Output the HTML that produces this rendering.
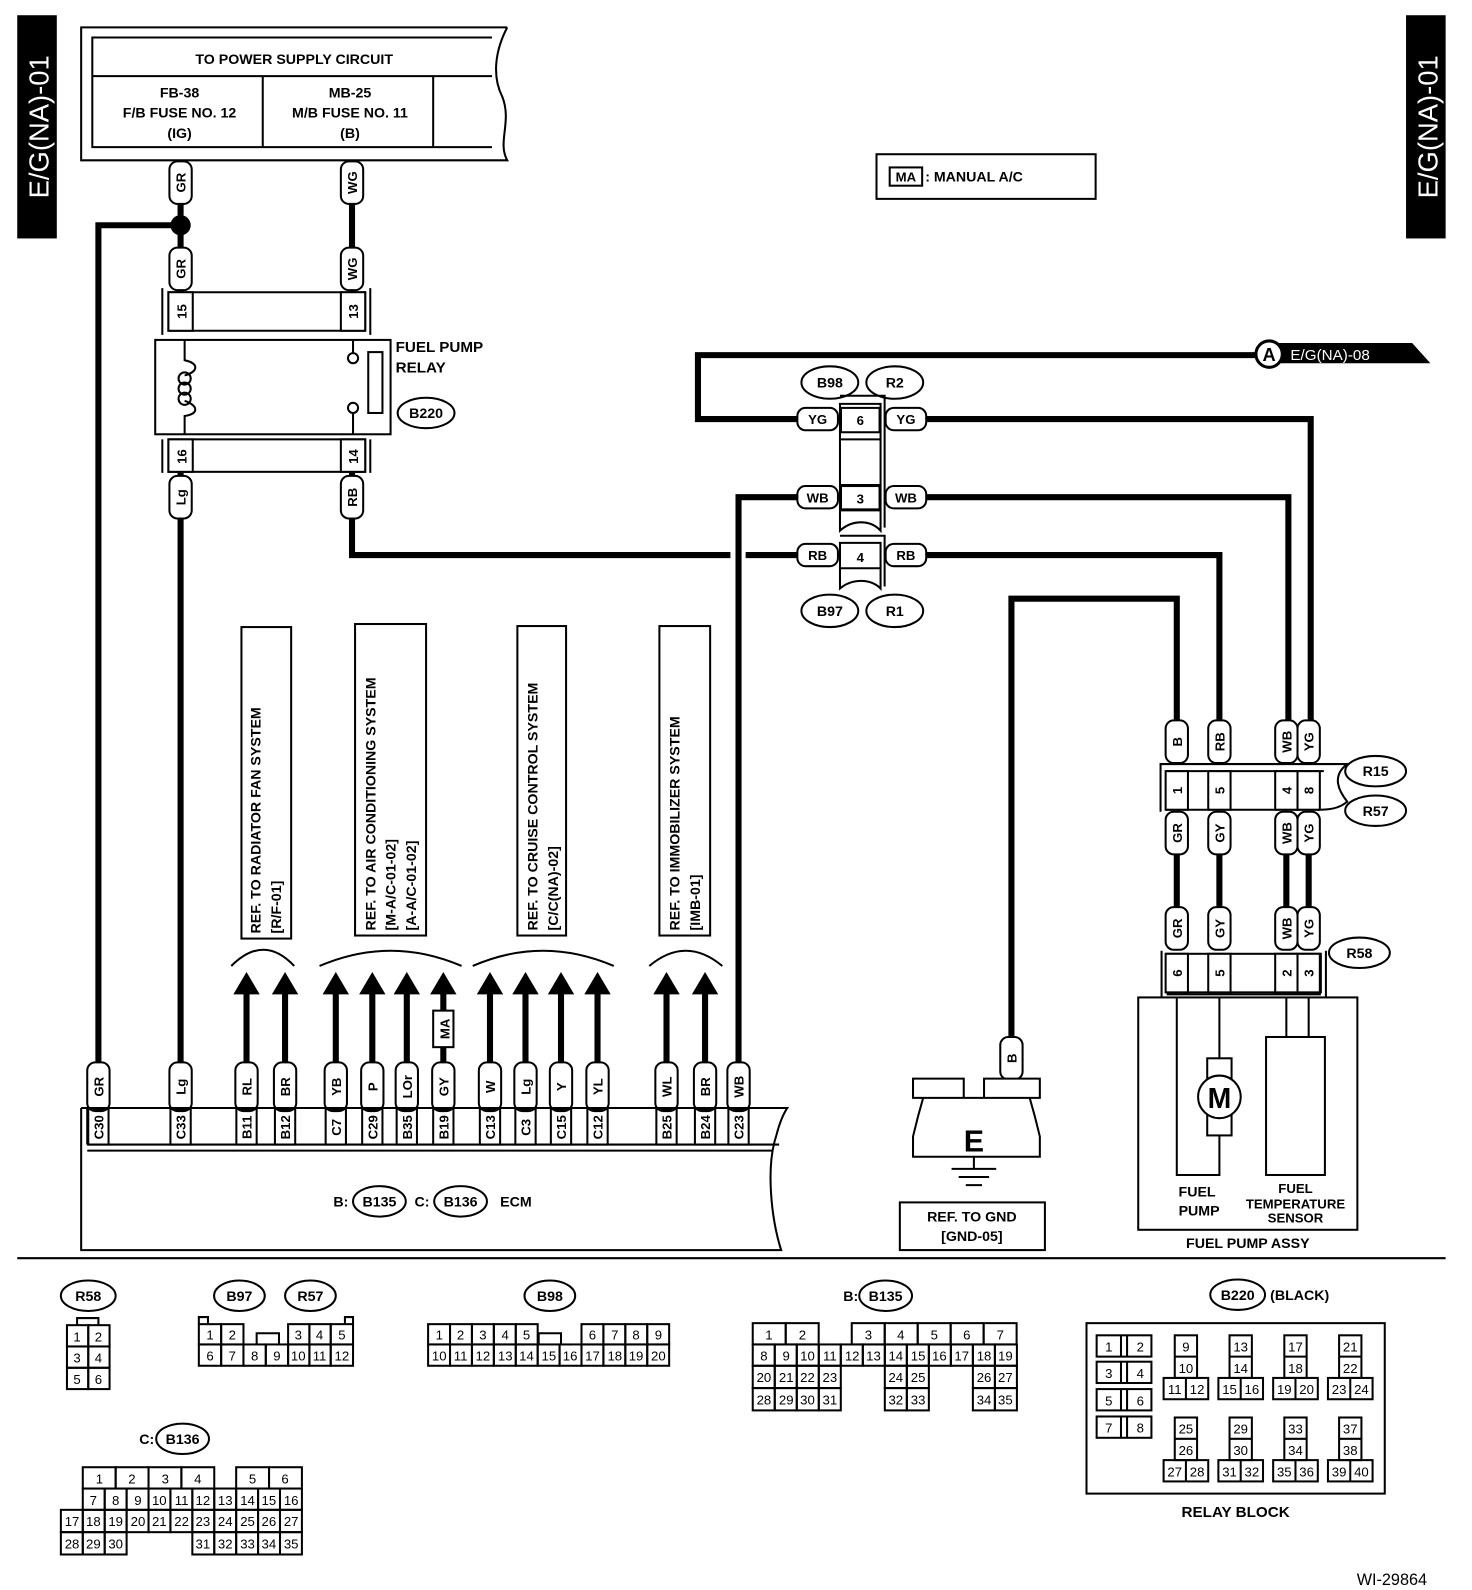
<!DOCTYPE html>
<html><head><meta charset="utf-8"><style>
html,body{margin:0;padding:0;background:#fff}
svg{display:block}
text{font-family:"Liberation Sans",Arial,sans-serif;font-weight:bold;fill:#000}
.w{stroke:#000;stroke-width:6;fill:none}
.t{stroke:#000;stroke-width:2;fill:none}
.f{stroke:#000;stroke-width:2;fill:#fff}
.c text{font-size:13px;font-weight:normal}
</style></head><body>
<svg width="1472" height="1590" viewBox="0 0 1451 1567" preserveAspectRatio="none" xmlns="http://www.w3.org/2000/svg">
<defs>
<g id="arr"><polygon points="0,0 -13,22 13,22" fill="#000"/></g>
</defs>
<rect x="17" y="15" width="39" height="220" fill="#000"/>
<text transform="translate(48,125) rotate(-90)" text-anchor="middle" font-size="27" style="fill:#fff;font-weight:normal">E/G(NA)-01</text>
<rect x="1386" y="15" width="39" height="220" fill="#000"/>
<text transform="translate(1417,125) rotate(-90)" text-anchor="middle" font-size="27" style="fill:#fff;font-weight:normal">E/G(NA)-01</text>

<path class="t" d="M500,27 L80,27 L80,158 L500,158 C490,140 505,120 495,95 C485,75 488,50 500,27" stroke-width="3"/>
<path class="t" d="M485,37 L91,37 L91,145 L485,145 M91,75 L485,75 M259,75 L259,145 M427,75 L427,145"/>
<text x="290" y="63" font-size="14" text-anchor="middle">TO POWER SUPPLY CIRCUIT</text>
<text x="177" y="96" font-size="14" text-anchor="middle">FB-38</text>
<text x="177" y="116" font-size="14" text-anchor="middle">F/B FUSE NO. 12</text>
<text x="177" y="136" font-size="14" text-anchor="middle">(IG)</text>
<text x="345" y="96" font-size="14" text-anchor="middle">MB-25</text>
<text x="345" y="116" font-size="14" text-anchor="middle">M/B FUSE NO. 11</text>
<text x="345" y="136" font-size="14" text-anchor="middle">(B)</text>

<path class="w" d="M178,158 L178,290 M347,158 L347,290"/>
<path class="w" d="M178,222 L97,222 L97,1048"/>
<circle cx="178" cy="222" r="10" fill="#000"/>
<path class="w" d="M178,466 L178,1048"/>
<path class="w" d="M347,466 L347,547 L720,547 M735,547 L790,547"/>
<path class="w" d="M728,1048 L728,490 L790,490"/>
<path class="w" d="M1245,350 L688,350 L688,413 L790,413"/>
<path class="w" d="M905,413 L1292,413 L1292,712 M905,490 L1270,490 L1270,712 M905,547 L1202,547 L1202,712"/>
<path class="w" d="M997,1022 L997,590 L1160,590 L1160,712"/>
<path class="w" d="M1160,840 L1160,900 M1202,840 L1202,900 M1268,840 L1268,900 M1290,840 L1290,900"/>

<polygon points="1252,338 1392,338 1410,358 1252,358" fill="#000"/>
<circle cx="1251" cy="349" r="13" fill="#fff" stroke="#000" stroke-width="3"/>
<text x="1251" y="356" font-size="18" text-anchor="middle">A</text>
<text x="1272" y="355" font-size="15" style="fill:#fff;font-weight:normal">E/G(NA)-08</text>

<path class="t" d="M160,284 L160,330 M365,284 L365,330 M166,288 L360,288 L360,326 L166,326 Z M166,288 L166,326"/>
<rect class="f" x="166" y="288" width="24" height="38"/><rect class="f" x="336" y="288" width="24" height="38"/>
<text transform="translate(184,307) rotate(-90)" font-size="13" text-anchor="middle">15</text>
<text transform="translate(353,307) rotate(-90)" font-size="13" text-anchor="middle">13</text>
<rect class="f" x="153" y="335" width="232" height="93" stroke-width="3"/>
<path class="t" d="M182,335 L182,355 C196,358 196,366 182,370 M182,395 C196,400 196,408 182,410 L182,428"/>
<circle cx="182" cy="373" r="6" class="t"/><circle cx="182" cy="383" r="6" class="t"/><circle cx="182" cy="393" r="6" class="t"/>
<path class="t" d="M348,335 L348,348 M348,408 L348,428"/>
<circle cx="348" cy="353" r="5" class="f"/><circle cx="348" cy="402" r="5" class="f"/>
<rect class="f" x="363" y="347" width="14" height="60"/>
<text x="390" y="347" font-size="15">FUEL PUMP</text>
<text x="390" y="367" font-size="15">RELAY</text>
<path class="t" d="M160,433 L160,466 M365,433 L365,466"/>
<rect class="t" x="166" y="433" width="194" height="32"/>
<rect class="f" x="166" y="433" width="24" height="32"/><rect class="f" x="336" y="433" width="24" height="32"/>
<text transform="translate(184,450) rotate(-90)" font-size="13" text-anchor="middle">16</text>
<text transform="translate(353,450) rotate(-90)" font-size="13" text-anchor="middle">14</text>

<g class="t">
<ellipse cx="420" cy="407" rx="28" ry="15"/>
<ellipse cx="818" cy="377" rx="28" ry="16"/><ellipse cx="882" cy="377" rx="28" ry="16"/>
<ellipse cx="818" cy="602" rx="28" ry="16"/><ellipse cx="882" cy="602" rx="28" ry="16"/>
<ellipse cx="1356" cy="760" rx="30" ry="15"/><ellipse cx="1356" cy="799" rx="30" ry="15"/>
<ellipse cx="1340" cy="939" rx="30" ry="15"/>
<ellipse cx="374" cy="1184" rx="26" ry="15"/><ellipse cx="454" cy="1184" rx="26" ry="15"/>
<ellipse cx="87" cy="1277" rx="27" ry="15"/><ellipse cx="236" cy="1277" rx="25" ry="15"/><ellipse cx="306" cy="1277" rx="25" ry="15"/>
<ellipse cx="542" cy="1277" rx="25" ry="15"/><ellipse cx="873" cy="1277" rx="26" ry="15"/>
<ellipse cx="180" cy="1418" rx="26" ry="15"/><ellipse cx="1220" cy="1276" rx="27" ry="15"/>
</g>
<g font-size="14" text-anchor="middle">
<text x="420" y="412">B220</text>
<text x="818" y="382">B98</text><text x="882" y="382">R2</text>
<text x="818" y="607">B97</text><text x="882" y="607">R1</text>
<text x="1356" y="765">R15</text><text x="1356" y="804">R57</text><text x="1340" y="944">R58</text>
<text x="374" y="1189">B135</text><text x="454" y="1189">B136</text>
<text x="87" y="1282">R58</text><text x="236" y="1282">B97</text><text x="306" y="1282">R57</text>
<text x="542" y="1282">B98</text><text x="873" y="1282">B135</text>
<text x="180" y="1423">B136</text><text x="1220" y="1281">B220</text>
</g>
<text x="336" y="1189" font-size="14" text-anchor="middle">B:</text>
<text x="416" y="1189" font-size="14" text-anchor="middle">C:</text>
<text x="493" y="1189" font-size="14">ECM</text>
<text x="846" y="1282" font-size="14" text-anchor="end">B:</text>
<text x="152" y="1423" font-size="14" text-anchor="end">C:</text>
<text x="1252" y="1281" font-size="14">(BLACK)</text>

<rect class="t" x="864" y="152" width="216" height="44"/>
<rect class="t" x="877" y="165" width="32" height="18"/>
<text x="893" y="179" font-size="13" text-anchor="middle">MA</text>
<text x="912" y="179" font-size="14">: MANUAL A/C</text>

<path class="t" d="M828,398 L868,398 L868,523 C858,512 840,512 828,523 Z M828,433 L868,433 M828,478 L868,478 M828,503 L868,503 M828,390 L872,390 L872,520"/>
<path class="t" d="M828,535 L868,535 L868,580 C858,570 840,570 828,580 Z M828,560 L868,560 M828,528 L872,528 L872,578"/>
<rect class="f" x="829" y="402" width="38" height="24"/>
<rect class="f" x="829" y="479" width="38" height="23"/>
<text x="848" y="419" font-size="13" text-anchor="middle">6</text>
<text x="848" y="496" font-size="13" text-anchor="middle">3</text>
<text x="848" y="554" font-size="13" text-anchor="middle">4</text>
<g font-size="13" text-anchor="middle">
<rect class="f" x="786" y="402" width="40" height="22" rx="8"/><text x="806" y="418">YG</text>
<rect class="f" x="873" y="402" width="40" height="22" rx="8"/><text x="893" y="418">YG</text>
<rect class="f" x="786" y="479" width="40" height="22" rx="8"/><text x="806" y="495">WB</text>
<rect class="f" x="873" y="479" width="40" height="22" rx="8"/><text x="893" y="495">WB</text>
<rect class="f" x="786" y="536" width="40" height="22" rx="8"/><text x="806" y="552">RB</text>
<rect class="f" x="873" y="536" width="40" height="22" rx="8"/><text x="893" y="552">RB</text>
</g>

<g font-size="13" text-anchor="middle">
<g transform="translate(178,180)"><rect class="f" x="-11" y="-21" width="22" height="42" rx="8"/><text transform="rotate(-90)" y="5">GR</text></g>
<g transform="translate(347,180)"><rect class="f" x="-11" y="-21" width="22" height="42" rx="8"/><text transform="rotate(-90)" y="5">WG</text></g>
<g transform="translate(178,265)"><rect class="f" x="-11" y="-21" width="22" height="42" rx="8"/><text transform="rotate(-90)" y="5">GR</text></g>
<g transform="translate(347,265)"><rect class="f" x="-11" y="-21" width="22" height="42" rx="8"/><text transform="rotate(-90)" y="5">WG</text></g>
<g transform="translate(178,490)"><rect class="f" x="-11" y="-21" width="22" height="42" rx="8"/><text transform="rotate(-90)" y="5">Lg</text></g>
<g transform="translate(347,490)"><rect class="f" x="-11" y="-21" width="22" height="42" rx="8"/><text transform="rotate(-90)" y="5">RB</text></g>
<g transform="translate(1160,731)"><rect class="f" x="-11" y="-21" width="22" height="42" rx="8"/><text transform="rotate(-90)" y="5">B</text></g>
<g transform="translate(1202,731)"><rect class="f" x="-11" y="-21" width="22" height="42" rx="8"/><text transform="rotate(-90)" y="5">RB</text></g>
<g transform="translate(1268,731)"><rect class="f" x="-11" y="-21" width="22" height="42" rx="8"/><text transform="rotate(-90)" y="5">WB</text></g>
<g transform="translate(1290,731)"><rect class="f" x="-11" y="-21" width="22" height="42" rx="8"/><text transform="rotate(-90)" y="5">YG</text></g>
<g transform="translate(1160,821)"><rect class="f" x="-11" y="-21" width="22" height="42" rx="8"/><text transform="rotate(-90)" y="5">GR</text></g>
<g transform="translate(1202,821)"><rect class="f" x="-11" y="-21" width="22" height="42" rx="8"/><text transform="rotate(-90)" y="5">GY</text></g>
<g transform="translate(1268,821)"><rect class="f" x="-11" y="-21" width="22" height="42" rx="8"/><text transform="rotate(-90)" y="5">WB</text></g>
<g transform="translate(1290,821)"><rect class="f" x="-11" y="-21" width="22" height="42" rx="8"/><text transform="rotate(-90)" y="5">YG</text></g>
<g transform="translate(1160,915)"><rect class="f" x="-11" y="-21" width="22" height="42" rx="8"/><text transform="rotate(-90)" y="5">GR</text></g>
<g transform="translate(1202,915)"><rect class="f" x="-11" y="-21" width="22" height="42" rx="8"/><text transform="rotate(-90)" y="5">GY</text></g>
<g transform="translate(1268,915)"><rect class="f" x="-11" y="-21" width="22" height="42" rx="8"/><text transform="rotate(-90)" y="5">WB</text></g>
<g transform="translate(1290,915)"><rect class="f" x="-11" y="-21" width="22" height="42" rx="8"/><text transform="rotate(-90)" y="5">YG</text></g>
<g transform="translate(997,1043)"><rect class="f" x="-11" y="-21" width="22" height="42" rx="8"/><text transform="rotate(-90)" y="5">B</text></g>
</g>

<path class="t" d="M1144,800 L1144,753 L1328,753 C1312,765 1320,780 1328,790 C1320,797 1310,798 1300,798 L1150,798 L1150,760 L1305,760"/>
<g class="f"><rect x="1149" y="760" width="22" height="38"/><rect x="1191" y="760" width="22" height="38"/><rect x="1257" y="760" width="22" height="38"/><rect x="1279" y="760" width="22" height="38"/></g>
<g font-size="13" text-anchor="middle">
<text transform="translate(1165,779) rotate(-90)" text-anchor="middle">1</text>
<text transform="translate(1207,779) rotate(-90)" text-anchor="middle">5</text>
<text transform="translate(1273,779) rotate(-90)" text-anchor="middle">4</text>
<text transform="translate(1295,779) rotate(-90)" text-anchor="middle">8</text>
</g>
<path class="t" d="M1145,937 L1145,983 M1307,937 L1307,983 M1150,980 L1302,980"/>
<g class="f"><rect x="1150" y="940" width="152" height="38"/></g>
<g class="f"><rect x="1149" y="940" width="22" height="38"/><rect x="1191" y="940" width="22" height="38"/><rect x="1257" y="940" width="22" height="38"/><rect x="1279" y="940" width="22" height="38"/></g>
<g font-size="13">
<text transform="translate(1165,959) rotate(-90)" text-anchor="middle">6</text>
<text transform="translate(1207,959) rotate(-90)" text-anchor="middle">5</text>
<text transform="translate(1273,959) rotate(-90)" text-anchor="middle">2</text>
<text transform="translate(1295,959) rotate(-90)" text-anchor="middle">3</text>
</g>
<rect class="t" x="1122" y="983" width="216" height="229" stroke-width="2.5"/>
<path class="t" d="M1160,983 L1160,1158 L1202,1158 L1202,983 M1268,983 L1268,1022 M1290,983 L1290,1022"/>
<rect class="f" x="1190" y="1043" width="24" height="76"/>
<circle cx="1202" cy="1081" r="21" class="f" stroke-width="2.5"/>
<text x="1202" y="1092" font-size="28" text-anchor="middle">M</text>
<rect class="f" x="1248" y="1022" width="58" height="136"/>
<text x="1180" y="1179" font-size="14" text-anchor="middle">FUEL</text>
<text x="1182" y="1198" font-size="14" text-anchor="middle">PUMP</text>
<text x="1277" y="1176" font-size="13" text-anchor="middle">FUEL</text>
<text x="1277" y="1191" font-size="13" text-anchor="middle">TEMPERATURE</text>
<text x="1277" y="1205" font-size="13" text-anchor="middle">SENSOR</text>
<text x="1230" y="1230" font-size="14" text-anchor="middle">FUEL PUMP ASSY</text>

<path class="f" stroke-width="2.5" d="M900,1063 L950,1063 L950,1082 L970,1082 L970,1063 L1025,1063 L1025,1082 L1015,1082 L1020,1100 L1025,1120 L1025,1140 L900,1140 L900,1120 L905,1100 L910,1082 L900,1082 Z M910,1082 L1015,1082"/>
<text x="960" y="1135" font-size="30" text-anchor="middle">E</text>
<path class="t" d="M960,1140 L960,1152 M938,1152 L982,1152 M945,1160 L975,1160 M952,1168 L968,1168"/>
<rect class="t" x="887" y="1185" width="143" height="47"/>
<text x="958" y="1204" font-size="14" text-anchor="middle">REF. TO GND</text>
<text x="958" y="1223" font-size="14" text-anchor="middle">[GND-05]</text>

<rect class="t" x="238" y="618" width="49" height="307"/>
<text transform="translate(257,920) rotate(-90)" font-size="14">REF. TO RADIATOR FAN SYSTEM</text>
<text transform="translate(277,920) rotate(-90)" font-size="14">[R/F-01]</text>
<rect class="t" x="350" y="615" width="70" height="307"/>
<text transform="translate(370,917) rotate(-90)" font-size="14">REF. TO AIR CONDITIONING SYSTEM</text>
<text transform="translate(390,917) rotate(-90)" font-size="14">[M-A/C-01-02]</text>
<text transform="translate(410,917) rotate(-90)" font-size="14">[A-A/C-01-02]</text>
<rect class="t" x="510" y="617" width="48" height="305"/>
<text transform="translate(530,917) rotate(-90)" font-size="14">REF. TO CRUISE CONTROL SYSTEM</text>
<text transform="translate(550,917) rotate(-90)" font-size="14">[C/C(NA)-02]</text>
<rect class="t" x="650" y="617" width="50" height="305"/>
<text transform="translate(670,917) rotate(-90)" font-size="14">REF. TO IMMOBILIZER SYSTEM</text>
<text transform="translate(690,917) rotate(-90)" font-size="14">[IMB-01]</text>

<path class="t" d="M228,952 Q260,920 290,952 M315,952 Q385,922 455,952 M466,952 Q535,922 605,952 M640,952 Q676,922 712,952" stroke-width="1.5"/>

<path class="w" d="M243,975 L243,1048 M281,975 L281,1048 M331,975 L331,1048 M367,975 L367,1048 M401,975 L401,1048 M437,975 L437,1048 M483,975 L483,1048 M518,975 L518,1048 M553,975 L553,1048 M589,975 L589,1048 M657,975 L657,1048 M695,975 L695,1048"/>
<g><use href="#arr" x="243" y="958"/><use href="#arr" x="281" y="958"/><use href="#arr" x="331" y="958"/><use href="#arr" x="367" y="958"/><use href="#arr" x="401" y="958"/><use href="#arr" x="437" y="958"/><use href="#arr" x="483" y="958"/><use href="#arr" x="518" y="958"/><use href="#arr" x="553" y="958"/><use href="#arr" x="589" y="958"/><use href="#arr" x="657" y="958"/><use href="#arr" x="695" y="958"/></g>
<rect class="f" x="427" y="996" width="20" height="36"/>
<text transform="translate(443,1014) rotate(-90)" font-size="13" text-anchor="middle">MA</text>

<g font-size="13" text-anchor="middle">
<g transform="translate(97,1071)"><rect class="f" x="-11" y="-24" width="22" height="48" rx="8"/><text transform="rotate(-90)" y="5">GR</text></g>
<g transform="translate(178,1071)"><rect class="f" x="-11" y="-24" width="22" height="48" rx="8"/><text transform="rotate(-90)" y="5">Lg</text></g>
<g transform="translate(243,1071)"><rect class="f" x="-11" y="-24" width="22" height="48" rx="8"/><text transform="rotate(-90)" y="5">RL</text></g>
<g transform="translate(281,1071)"><rect class="f" x="-11" y="-24" width="22" height="48" rx="8"/><text transform="rotate(-90)" y="5">BR</text></g>
<g transform="translate(331,1071)"><rect class="f" x="-11" y="-24" width="22" height="48" rx="8"/><text transform="rotate(-90)" y="5">YB</text></g>
<g transform="translate(367,1071)"><rect class="f" x="-11" y="-24" width="22" height="48" rx="8"/><text transform="rotate(-90)" y="5">P</text></g>
<g transform="translate(401,1071)"><rect class="f" x="-11" y="-24" width="22" height="48" rx="8"/><text transform="rotate(-90)" y="5">LOr</text></g>
<g transform="translate(437,1071)"><rect class="f" x="-11" y="-24" width="22" height="48" rx="8"/><text transform="rotate(-90)" y="5">GY</text></g>
<g transform="translate(483,1071)"><rect class="f" x="-11" y="-24" width="22" height="48" rx="8"/><text transform="rotate(-90)" y="5">W</text></g>
<g transform="translate(518,1071)"><rect class="f" x="-11" y="-24" width="22" height="48" rx="8"/><text transform="rotate(-90)" y="5">Lg</text></g>
<g transform="translate(553,1071)"><rect class="f" x="-11" y="-24" width="22" height="48" rx="8"/><text transform="rotate(-90)" y="5">Y</text></g>
<g transform="translate(589,1071)"><rect class="f" x="-11" y="-24" width="22" height="48" rx="8"/><text transform="rotate(-90)" y="5">YL</text></g>
<g transform="translate(657,1071)"><rect class="f" x="-11" y="-24" width="22" height="48" rx="8"/><text transform="rotate(-90)" y="5">WL</text></g>
<g transform="translate(695,1071)"><rect class="f" x="-11" y="-24" width="22" height="48" rx="8"/><text transform="rotate(-90)" y="5">BR</text></g>
<g transform="translate(728,1071)"><rect class="f" x="-11" y="-24" width="22" height="48" rx="8"/><text transform="rotate(-90)" y="5">WB</text></g>
</g>

<path class="t" stroke-width="2.5" d="M80,1092 L80,1232 L770,1232 C760,1200 755,1150 765,1120 C768,1108 772,1098 776,1092 L80,1092 M86,1128 L768,1128 M86,1134 L762,1134 M86,1092 L86,1128"/>
<g class="t">
<rect x="87" y="1093" width="20" height="35"/><rect x="168" y="1093" width="20" height="35"/><rect x="233" y="1093" width="20" height="35"/><rect x="271" y="1093" width="20" height="35"/><rect x="321" y="1093" width="20" height="35"/><rect x="357" y="1093" width="20" height="35"/><rect x="391" y="1093" width="20" height="35"/><rect x="427" y="1093" width="20" height="35"/><rect x="473" y="1093" width="20" height="35"/><rect x="508" y="1093" width="20" height="35"/><rect x="543" y="1093" width="20" height="35"/><rect x="579" y="1093" width="20" height="35"/><rect x="647" y="1093" width="20" height="35"/><rect x="685" y="1093" width="20" height="35"/><rect x="718" y="1093" width="20" height="35"/>
</g>
<g font-size="13" text-anchor="middle">
<text transform="translate(102,1111) rotate(-90)">C30</text><text transform="translate(183,1111) rotate(-90)">C33</text><text transform="translate(248,1111) rotate(-90)">B11</text><text transform="translate(286,1111) rotate(-90)">B12</text><text transform="translate(336,1111) rotate(-90)">C7</text><text transform="translate(372,1111) rotate(-90)">C29</text><text transform="translate(406,1111) rotate(-90)">B35</text><text transform="translate(442,1111) rotate(-90)">B19</text><text transform="translate(488,1111) rotate(-90)">C13</text><text transform="translate(523,1111) rotate(-90)">C3</text><text transform="translate(558,1111) rotate(-90)">C15</text><text transform="translate(594,1111) rotate(-90)">C12</text><text transform="translate(662,1111) rotate(-90)">B25</text><text transform="translate(700,1111) rotate(-90)">B24</text><text transform="translate(733,1111) rotate(-90)">C23</text>
</g>

<line x1="17" y1="1240" x2="1425" y2="1240" stroke="#000" stroke-width="2"/>

<g class="c" text-anchor="middle">
<path class="t" d="M76,1306 L76,1299 L97,1299 L97,1306"/>
<g class="t"><rect x="66" y="1306" width="21" height="21"/><rect x="87" y="1306" width="21" height="21"/><rect x="66" y="1327" width="21" height="21"/><rect x="87" y="1327" width="21" height="21"/><rect x="66" y="1348" width="21" height="21"/><rect x="87" y="1348" width="21" height="21"/></g>
<text x="76" y="1322">1</text><text x="97" y="1322">2</text><text x="76" y="1343">3</text><text x="97" y="1343">4</text><text x="76" y="1364">5</text><text x="97" y="1364">6</text>
<g class="t"><path d="M196,1305 L196,1298 L205,1298 L205,1305 M340,1305 L340,1298 L348,1298 L348,1305 M253,1325 L253,1314 L275,1314 L275,1325"/>
<rect x="196" y="1305" width="22" height="20"/><rect x="218" y="1305" width="22" height="20"/><rect x="284" y="1305" width="21" height="20"/><rect x="305" y="1305" width="21" height="20"/><rect x="326" y="1305" width="22" height="20"/>
<rect x="196" y="1325" width="22" height="21"/><rect x="218" y="1325" width="22" height="21"/><rect x="240" y="1325" width="22" height="21"/><rect x="262" y="1325" width="22" height="21"/><rect x="284" y="1325" width="21" height="21"/><rect x="305" y="1325" width="21" height="21"/><rect x="326" y="1325" width="22" height="21"/></g>
<text x="207" y="1320">1</text><text x="229" y="1320">2</text><text x="294" y="1320">3</text><text x="315" y="1320">4</text><text x="337" y="1320">5</text>
<text x="207" y="1341">6</text><text x="229" y="1341">7</text><text x="251" y="1341">8</text><text x="273" y="1341">9</text><text x="294" y="1341">10</text><text x="315" y="1341">11</text><text x="337" y="1341">12</text>
<g class="t"><path d="M531,1325 L531,1314 L553,1314 L553,1325"/>
<rect x="422" y="1305" width="21.6" height="20"/><rect x="443.6" y="1305" width="21.6" height="20"/><rect x="465.2" y="1305" width="21.6" height="20"/><rect x="486.8" y="1305" width="21.6" height="20"/><rect x="508.4" y="1305" width="21.6" height="20"/>
<rect x="573.2" y="1305" width="21.6" height="20"/><rect x="594.8" y="1305" width="21.6" height="20"/><rect x="616.4" y="1305" width="21.6" height="20"/><rect x="638" y="1305" width="21.6" height="20"/>
<rect x="422" y="1325" width="21.6" height="21"/><rect x="443.6" y="1325" width="21.6" height="21"/><rect x="465.2" y="1325" width="21.6" height="21"/><rect x="486.8" y="1325" width="21.6" height="21"/><rect x="508.4" y="1325" width="21.6" height="21"/><rect x="530" y="1325" width="21.6" height="21"/><rect x="551.6" y="1325" width="21.6" height="21"/><rect x="573.2" y="1325" width="21.6" height="21"/><rect x="594.8" y="1325" width="21.6" height="21"/><rect x="616.4" y="1325" width="21.6" height="21"/><rect x="638" y="1325" width="21.6" height="21"/></g>
<text x="433" y="1320">1</text><text x="454" y="1320">2</text><text x="476" y="1320">3</text><text x="498" y="1320">4</text><text x="519" y="1320">5</text><text x="584" y="1320">6</text><text x="606" y="1320">7</text><text x="627" y="1320">8</text><text x="649" y="1320">9</text>
<text x="433" y="1341">10</text><text x="454" y="1341">11</text><text x="476" y="1341">12</text><text x="498" y="1341">13</text><text x="519" y="1341">14</text><text x="541" y="1341">15</text><text x="562" y="1341">16</text><text x="584" y="1341">17</text><text x="606" y="1341">18</text><text x="627" y="1341">19</text><text x="649" y="1341">20</text>
<g class="t">
<rect x="742" y="1304" width="32.5" height="21"/><rect x="774.5" y="1304" width="32.5" height="21"/><rect x="839.6" y="1304" width="32.5" height="21"/><rect x="872.1" y="1304" width="32.5" height="21"/><rect x="904.6" y="1304" width="32.5" height="21"/><rect x="937.1" y="1304" width="32.5" height="21"/><rect x="969.6" y="1304" width="32.5" height="21"/>
<rect x="742" y="1325" width="21.7" height="21"/><rect x="763.7" y="1325" width="21.7" height="21"/><rect x="785.4" y="1325" width="21.7" height="21"/><rect x="807.1" y="1325" width="21.7" height="21"/><rect x="828.8" y="1325" width="21.7" height="21"/><rect x="850.5" y="1325" width="21.7" height="21"/><rect x="872.2" y="1325" width="21.7" height="21"/><rect x="893.9" y="1325" width="21.7" height="21"/><rect x="915.6" y="1325" width="21.7" height="21"/><rect x="937.3" y="1325" width="21.7" height="21"/><rect x="959" y="1325" width="21.7" height="21"/><rect x="980.7" y="1325" width="21.7" height="21"/>
<rect x="742" y="1346" width="21.7" height="22"/><rect x="763.7" y="1346" width="21.7" height="22"/><rect x="785.4" y="1346" width="21.7" height="22"/><rect x="807.1" y="1346" width="21.7" height="22"/><rect x="872.2" y="1346" width="21.7" height="22"/><rect x="893.9" y="1346" width="21.7" height="22"/><rect x="959" y="1346" width="21.7" height="22"/><rect x="980.7" y="1346" width="21.7" height="22"/>
<rect x="742" y="1368" width="21.7" height="22"/><rect x="763.7" y="1368" width="21.7" height="22"/><rect x="785.4" y="1368" width="21.7" height="22"/><rect x="807.1" y="1368" width="21.7" height="22"/><rect x="872.2" y="1368" width="21.7" height="22"/><rect x="893.9" y="1368" width="21.7" height="22"/><rect x="959" y="1368" width="21.7" height="22"/><rect x="980.7" y="1368" width="21.7" height="22"/>
</g>
<text x="758" y="1320">1</text><text x="791" y="1320">2</text><text x="856" y="1320">3</text><text x="888" y="1320">4</text><text x="921" y="1320">5</text><text x="953" y="1320">6</text><text x="986" y="1320">7</text>
<text x="753" y="1341">8</text><text x="775" y="1341">9</text><text x="796" y="1341">10</text><text x="818" y="1341">11</text><text x="840" y="1341">12</text><text x="861" y="1341">13</text><text x="883" y="1341">14</text><text x="905" y="1341">15</text><text x="926" y="1341">16</text><text x="948" y="1341">17</text><text x="970" y="1341">18</text><text x="991" y="1341">19</text>
<text x="753" y="1362">20</text><text x="775" y="1362">21</text><text x="796" y="1362">22</text><text x="818" y="1362">23</text><text x="883" y="1362">24</text><text x="905" y="1362">25</text><text x="970" y="1362">26</text><text x="991" y="1362">27</text>
<text x="753" y="1384">28</text><text x="775" y="1384">29</text><text x="796" y="1384">30</text><text x="818" y="1384">31</text><text x="883" y="1384">32</text><text x="905" y="1384">33</text><text x="970" y="1384">34</text><text x="991" y="1384">35</text>
<g class="t">
<rect x="81.6" y="1446" width="32.4" height="21"/><rect x="114" y="1446" width="32.4" height="21"/><rect x="146.4" y="1446" width="32.4" height="21"/><rect x="178.8" y="1446" width="32.4" height="21"/><rect x="232.8" y="1446" width="32.4" height="21"/><rect x="265.2" y="1446" width="32.4" height="21"/>
<rect x="81.6" y="1467" width="21.6" height="21"/><rect x="103.2" y="1467" width="21.6" height="21"/><rect x="124.8" y="1467" width="21.6" height="21"/><rect x="146.4" y="1467" width="21.6" height="21"/><rect x="168" y="1467" width="21.6" height="21"/><rect x="189.6" y="1467" width="21.6" height="21"/><rect x="211.2" y="1467" width="21.6" height="21"/><rect x="232.8" y="1467" width="21.6" height="21"/><rect x="254.4" y="1467" width="21.6" height="21"/><rect x="276" y="1467" width="21.6" height="21"/>
<rect x="60" y="1488" width="21.6" height="22"/><rect x="81.6" y="1488" width="21.6" height="22"/><rect x="103.2" y="1488" width="21.6" height="22"/><rect x="124.8" y="1488" width="21.6" height="22"/><rect x="146.4" y="1488" width="21.6" height="22"/><rect x="168" y="1488" width="21.6" height="22"/><rect x="189.6" y="1488" width="21.6" height="22"/><rect x="211.2" y="1488" width="21.6" height="22"/><rect x="232.8" y="1488" width="21.6" height="22"/><rect x="254.4" y="1488" width="21.6" height="22"/><rect x="276" y="1488" width="21.6" height="22"/>
<rect x="60" y="1510" width="21.6" height="22"/><rect x="81.6" y="1510" width="21.6" height="22"/><rect x="103.2" y="1510" width="21.6" height="22"/><rect x="189.6" y="1510" width="21.6" height="22"/><rect x="211.2" y="1510" width="21.6" height="22"/><rect x="232.8" y="1510" width="21.6" height="22"/><rect x="254.4" y="1510" width="21.6" height="22"/><rect x="276" y="1510" width="21.6" height="22"/>
</g>
<text x="98" y="1462">1</text><text x="130" y="1462">2</text><text x="163" y="1462">3</text><text x="195" y="1462">4</text><text x="249" y="1462">5</text><text x="281" y="1462">6</text>
<text x="92" y="1483">7</text><text x="114" y="1483">8</text><text x="136" y="1483">9</text><text x="157" y="1483">10</text><text x="179" y="1483">11</text><text x="200" y="1483">12</text><text x="222" y="1483">13</text><text x="244" y="1483">14</text><text x="265" y="1483">15</text><text x="287" y="1483">16</text>
<text x="71" y="1504">17</text><text x="92" y="1504">18</text><text x="114" y="1504">19</text><text x="136" y="1504">20</text><text x="157" y="1504">21</text><text x="179" y="1504">22</text><text x="200" y="1504">23</text><text x="222" y="1504">24</text><text x="244" y="1504">25</text><text x="265" y="1504">26</text><text x="287" y="1504">27</text>
<text x="71" y="1526">28</text><text x="92" y="1526">29</text><text x="114" y="1526">30</text><text x="200" y="1526">31</text><text x="222" y="1526">32</text><text x="244" y="1526">33</text><text x="265" y="1526">34</text><text x="287" y="1526">35</text>
<rect class="t" x="1071" y="1304" width="294" height="168"/>
<g class="t">
<rect x="1081" y="1316" width="54" height="21"/><path d="M1105,1316 L1105,1337 M1111,1316 L1111,1337"/>
<rect x="1081" y="1342" width="54" height="21"/><path d="M1105,1342 L1105,1363 M1111,1342 L1111,1363"/>
<rect x="1081" y="1369" width="54" height="21"/><path d="M1105,1369 L1105,1390 M1111,1369 L1111,1390"/>
<rect x="1081" y="1396" width="54" height="21"/><path d="M1105,1396 L1105,1417 M1111,1396 L1111,1417"/>
</g>
<text x="1093" y="1332">1</text><text x="1124" y="1332">2</text><text x="1093" y="1358">3</text><text x="1124" y="1358">4</text><text x="1093" y="1385">5</text><text x="1124" y="1385">6</text><text x="1093" y="1412">7</text><text x="1124" y="1412">8</text>
<g class="t">
<rect x="1158" y="1316" width="22" height="42"/><line x1="1158" y1="1337" x2="1180" y2="1337"/><rect x="1147" y="1358" width="44" height="21"/><line x1="1169" y1="1358" x2="1169" y2="1379"/>
<rect x="1212" y="1316" width="22" height="42"/><line x1="1212" y1="1337" x2="1234" y2="1337"/><rect x="1201" y="1358" width="44" height="21"/><line x1="1223" y1="1358" x2="1223" y2="1379"/>
<rect x="1266" y="1316" width="22" height="42"/><line x1="1266" y1="1337" x2="1288" y2="1337"/><rect x="1255" y="1358" width="44" height="21"/><line x1="1277" y1="1358" x2="1277" y2="1379"/>
<rect x="1320" y="1316" width="22" height="42"/><line x1="1320" y1="1337" x2="1342" y2="1337"/><rect x="1309" y="1358" width="44" height="21"/><line x1="1331" y1="1358" x2="1331" y2="1379"/>
<rect x="1158" y="1397" width="22" height="42"/><line x1="1158" y1="1418" x2="1180" y2="1418"/><rect x="1147" y="1439" width="44" height="21"/><line x1="1169" y1="1439" x2="1169" y2="1460"/>
<rect x="1212" y="1397" width="22" height="42"/><line x1="1212" y1="1418" x2="1234" y2="1418"/><rect x="1201" y="1439" width="44" height="21"/><line x1="1223" y1="1439" x2="1223" y2="1460"/>
<rect x="1266" y="1397" width="22" height="42"/><line x1="1266" y1="1418" x2="1288" y2="1418"/><rect x="1255" y="1439" width="44" height="21"/><line x1="1277" y1="1439" x2="1277" y2="1460"/>
<rect x="1320" y="1397" width="22" height="42"/><line x1="1320" y1="1418" x2="1342" y2="1418"/><rect x="1309" y="1439" width="44" height="21"/><line x1="1331" y1="1439" x2="1331" y2="1460"/>
</g>
<text x="1169" y="1332">9</text><text x="1169" y="1353">10</text><text x="1158" y="1374">11</text><text x="1180" y="1374">12</text>
<text x="1223" y="1332">13</text><text x="1223" y="1353">14</text><text x="1212" y="1374">15</text><text x="1234" y="1374">16</text>
<text x="1277" y="1332">17</text><text x="1277" y="1353">18</text><text x="1266" y="1374">19</text><text x="1288" y="1374">20</text>
<text x="1331" y="1332">21</text><text x="1331" y="1353">22</text><text x="1320" y="1374">23</text><text x="1342" y="1374">24</text>
<text x="1169" y="1413">25</text><text x="1169" y="1434">26</text><text x="1158" y="1455">27</text><text x="1180" y="1455">28</text>
<text x="1223" y="1413">29</text><text x="1223" y="1434">30</text><text x="1212" y="1455">31</text><text x="1234" y="1455">32</text>
<text x="1277" y="1413">33</text><text x="1277" y="1434">34</text><text x="1266" y="1455">35</text><text x="1288" y="1455">36</text>
<text x="1331" y="1413">37</text><text x="1331" y="1434">38</text><text x="1320" y="1455">39</text><text x="1342" y="1455">40</text>
</g>
<text x="1218" y="1495" font-size="15" text-anchor="middle">RELAY BLOCK</text>
<text x="1372" y="1562" font-size="16" text-anchor="middle" style="font-weight:normal">WI-29864</text>
</svg>
</body></html>
